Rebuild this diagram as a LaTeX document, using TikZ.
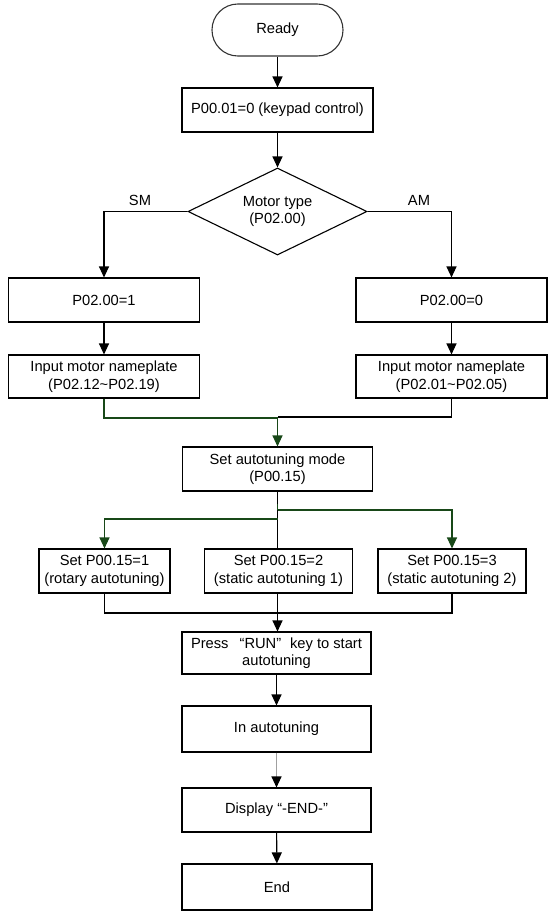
\documentclass[tikz,border=0pt]{standalone}
\usepackage{fontspec}
\setmainfont{Liberation Sans}
\usetikzlibrary{arrows.meta,shapes.geometric}
\definecolor{lgreen}{RGB}{24,72,24}
\definecolor{lgray}{RGB}{160,160,160}
\tikzset{
  base/.style={font=\fontsize{14.7}{17.5}\selectfont, inner sep=0pt, align=center, text=black},
  box/.style={base, draw=black, line width=1.1pt, rectangle},
  conn/.style={line width=1.1pt, draw=black},
  arr/.style={conn, -{Triangle[length=11pt,width=10pt]}},
  garr/.style={conn, draw=lgreen, -{Triangle[length=11pt,width=10pt]}},
  gline/.style={conn, draw=lgreen},
}
\begin{document}
\begin{tikzpicture}[x=1pt,y=-1pt]
\useasboundingbox (0,0) rectangle (549,916);
\node[box, draw=black!80, minimum width=131pt, minimum height=52pt, rounded corners=25.9pt] (ready) at (277.5,30) {Ready};
\node[box, minimum width=191pt, minimum height=44pt] (p0001) at (277.5,110) {P00.01=0 (keypad control)};
\node[base, draw=black, line width=1.1pt, diamond, aspect=2.06, minimum width=179pt, minimum height=87pt] (type) at (277.5,211.5) {Motor type\\(P02.00)};
\node[base] (sm) at (140,200) {SM};
\node[base] (am) at (419,200) {AM};
\node[box, minimum width=191pt, minimum height=44pt] (l1) at (104,300) {P02.00=1};
\node[box, minimum width=191pt, minimum height=44pt] (r1) at (451.5,300) {P02.00=0};
\node[box, minimum width=191pt, minimum height=43pt] (l2) at (104,376.5) {Input motor nameplate\\(P02.12\textasciitilde P02.19)};
\node[box, minimum width=191pt, minimum height=43pt] (r2) at (451.5,376.5) {Input motor nameplate\\(P02.01\textasciitilde P02.05)};
\node[box, minimum width=190pt, minimum height=44pt] (mode) at (277.5,469) {Set autotuning mode\\(P00.15)};
\node[box, minimum width=131pt, minimum height=44pt] (s1) at (104.5,571) {Set P00.15=1\\(rotary autotuning)};
\node[box, minimum width=148pt, minimum height=44pt] (s2) at (278.5,571) {Set P00.15=2\\(static autotuning 1)};
\node[box, minimum width=148pt, minimum height=44pt] (s3) at (452,571) {Set P00.15=3\\(static autotuning 2)};
\node[box, minimum width=189pt, minimum height=42pt] (press) at (276.5,653) {Press\hskip 0.75em“RUN”\hskip 0.6em key to start\\autotuning};
\node[box, minimum width=189pt, minimum height=46pt] (inauto) at (276.5,729) {In autotuning};
\node[box, minimum width=189pt, minimum height=44pt] (disp) at (276.5,810) {Display “-END-”};
\node[box, minimum width=190pt, minimum height=46pt] (end) at (277,887) {End};
% coordinates
\coordinate (mrg) at (277.5,417);
\coordinate (lmrg) at (277.5,418);
\coordinate (sp0) at (277.5,504);
\coordinate (sp1) at (277.5,510);
\coordinate (sp2) at (277.5,519);
\coordinate (bot) at (277.5,613);
% connectors
\draw[arr] (ready) -- (p0001);
\draw[arr] (p0001) -- (type);
\draw[arr] (type.west) -| (l1.north);
\draw[arr] (type.east) -| (r1.north);
\draw[arr] (l1) -- (l2);
\draw[arr] (r1) -- (r2);
\draw[gline] (l2.south) |- (lmrg);
\draw[conn] (r2.south) |- (mrg);
\draw[garr] (mrg) -- (mode.north);
\draw[conn] (mode.south) -- (mode.south |- s2.north);
\draw[gline] (sp0) -- (sp1);
\draw[garr] (sp1) -| (s3.north);
\draw[garr] (sp2) -| (s1.north);
\draw[conn] (s1.south) |- (bot);
\draw[conn] (s3.south) |- (bot);
\draw[conn] (s2.south -| bot) -- (bot);
\draw[arr] (bot) -- (press.north -| bot);
\draw[arr] (press) -- (inauto);
\draw[conn, draw=lgray, -{Triangle[length=11pt,width=10pt,color=black]}] (inauto) -- (disp);
\draw[arr] (disp) -- (end);
\end{tikzpicture}
\end{document}
